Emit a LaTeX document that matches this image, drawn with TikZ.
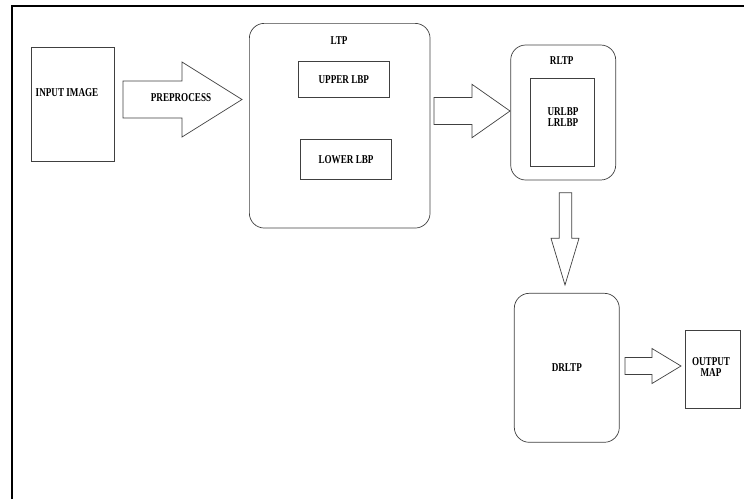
\documentclass[tikz,border=0pt]{standalone}
\usepackage{fontspec}
\setmainfont{Liberation Serif}[FakeStretch=0.76]
\usetikzlibrary{positioning}

\begin{document}
\begin{tikzpicture}[x=1pt,y=-1pt,
	every node/.style={font=\fontsize{12}{14}\selectfont\bfseries},
	box/.style={draw=black!75,line width=0.7pt,inner sep=0pt},
	roundbox/.style={box,rounded corners=15pt},
	blockarrow/.style={draw=black!75,line width=0.7pt,fill=white,line join=miter}]
	\useasboundingbox (0,0) rectangle (744,499);
	% frame
	\draw[line width=2pt] (11.5,499) -- (11.5,6) -- (744,6);
	% boxes
	\node[box,minimum width=83pt,minimum height=114.5pt] (input) at (72.5,104.2) {};
	\node (inputlbl) at (67,93) {INPUT IMAGE};
	\node[roundbox,minimum width=180.7pt,minimum height=204.7pt] (ltp) at (339.7,125.7) {};
	\node (ltplbl) at (339,41) {LTP};
	\node[box,minimum width=91pt,minimum height=36.7pt] (upper) at (343.8,79.3) {UPPER LBP};
	\node[box,minimum width=91.4pt,minimum height=40pt] (lower) at (346,159.3) {LOWER LBP};
	\node[roundbox,minimum width=105pt,minimum height=135pt] (rltp) at (563.2,112.5) {};
	\node (rltplbl) at (561.7,61) {RLTP};
	\node[box,minimum width=63.6pt,minimum height=88.4pt] (inner) at (562.5,122.5) {};
	\node[align=center] (innerlbl) at (563,117.5) {URLBP\\[-3pt]LRLBP};
	\node[roundbox,minimum width=105pt,minimum height=149pt] (drltp) at (566.8,367.8) {DRLTP};
	\node[box,minimum width=54.6pt,minimum height=77.6pt] (output) at (713,369.5) {};
	\node[align=center] (outputlbl) at (711,367) {OUTPUT\\[-3pt]MAP};
	% block arrows (left, head start, tip, middle, half shaft, half head)
	\foreach \xa/\xb/\xc/\ym/\sh/\hh in {123/182/242/99.5/18.5/37.5, 434/472/510/111/13.5/26.7, 625/652/681/366/8.5/17.5}
		\draw[blockarrow] (\xa,\ym-\sh) -- (\xb,\ym-\sh) -- (\xb,\ym-\hh) -- (\xc,\ym)
			-- (\xb,\ym+\hh) -- (\xb,\ym+\sh) -- (\xa,\ym+\sh) -- cycle;
	\draw[blockarrow] (559.3,192.7) -- (571.7,192.7) -- (571.7,238.3) -- (579,238.3) -- (565,285)
		-- (551,238.3) -- (559.3,238.3) -- cycle;
	\node (prep) at (181,98) {PREPROCESS};
\end{tikzpicture}
\end{document}
